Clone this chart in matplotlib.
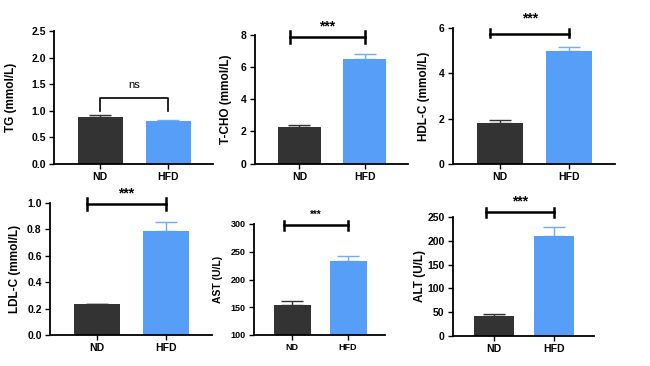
import matplotlib
matplotlib.use("Agg")
import matplotlib.pyplot as plt

plt.rcParams['font.family'] = ['Liberation Sans', 'DejaVu Sans']

groups = ["ND", "HFD"]
labels = ["TG (mmol/L)", "T-CHO (mmol/L)", "HDL-C (mmol/L)",
          "LDL-C (mmol/L)", "AST (U/L)", "ALT (U/L)"]
means = [[0.88, 0.81], [2.25, 6.50], [1.80, 4.98],
         [0.232, 0.786], [154, 233], [41.5, 210]]
errs = [[0.045, 0.012], [0.13, 0.33], [0.12, 0.19],
        [0.006, 0.065], [7, 10], [4.5, 20]]
sig = ["ns", "***", "***", "***", "***", "***"]
yticks = [[0, 0.5, 1.0, 1.5, 2.0, 2.5], [0, 2, 4, 6, 8], [0, 2, 4, 6],
          [0, 0.2, 0.4, 0.6, 0.8, 1.0], [100, 150, 200, 250, 300],
          [0, 50, 100, 150, 200, 250]]
ytickfmt = ["{:.1f}", "{:.0f}", "{:.0f}", "{:.1f}", "{:.0f}", "{:.0f}"]

# layout (pixels) and annotation positions
boxes = [(54, 213, 31, 164), (255, 408, 35, 163.5), (453, 615, 28, 164),
         (50, 212, 202.7, 335), (254, 385, 224, 335), (453, 594, 217, 336)]
ylabel_x = [17, 232, 430, 21, 223, 426]
brk = [(1.25, 1.0, 1.25, 1.49), (7.87, 7.5, 8.25, 8.5), (5.75, 5.6, 5.96, 6.42),
       (0.99, 0.945, 1.035, 1.07), (298, 289, 305, 316), (260, 251, 269, 283)]
brk_left = [0.0, -0.15, -0.145, -0.15, -0.14, -0.14]

W, H = 650, 366
fig = plt.figure(figsize=(6.5, 3.66), dpi=100)
fig.patch.set_facecolor("white")

c_nd = "#333333"
c_hfd = "#579ef8"
e_hfd = "#6fadf5"

for i in range(6):
    l, r, t, b = boxes[i]
    ax = fig.add_axes([l / W, 1 - b / H, (r - l) / W, (b - t) / H])
    ymin, ymax = yticks[i][0], yticks[i][-1]
    small = (i == 4)
    fs = 6.5 if small else 7.5
    ax.bar([0, 1], [m - ymin for m in means[i]], bottom=ymin, width=0.66,
           color=[c_nd, c_hfd], edgecolor="none", zorder=2)
    for j in range(2):
        ax.errorbar(j, means[i][j], yerr=[[0], [errs[i][j]]], fmt="none",
                    ecolor=[c_nd, e_hfd][j], elinewidth=1.0, capsize=8,
                    capthick=1.0, zorder=1)
    ax.set_xlim(-0.68, 1.66)
    ax.set_ylim(ymin, ymax)
    ax.set_yticks(yticks[i])
    ax.set_yticklabels([ytickfmt[i].format(v) for v in yticks[i]],
                       fontsize=fs, fontweight="bold")
    ax.set_xticks([0, 1])
    ax.set_xticklabels(groups, fontsize=fs, fontweight="bold")
    for s in ["top", "right"]:
        ax.spines[s].set_visible(False)
    for s in ["left", "bottom"]:
        ax.spines[s].set_linewidth(1.3)
    ax.tick_params(axis="both", direction="out", length=3.5, width=1.0,
                   pad=2.5, colors="black")
    ax.set_ylabel(labels[i], fontsize=7.5 if small else 8.5, fontweight="bold")
    ax.yaxis.set_label_coords((ylabel_x[i] - l) / (r - l), 0.5)
    # significance bracket
    yh, ylo, yhi, ytxt = brk[i]
    x0 = brk_left[i]
    if sig[i] == "ns":
        ax.plot([x0, x0, 1, 1], [ylo, yh, yh, ylo], color="black", lw=1.2,
                clip_on=False)
        ax.text(0.5, ytxt, "ns", ha="center", va="center", fontsize=8)
    else:
        ax.plot([x0, 1], [yh, yh], color="black", lw=1.8, clip_on=False)
        ax.plot([x0, x0], [ylo, yhi], color="black", lw=1.8, clip_on=False)
        ax.plot([1, 1], [ylo, yhi], color="black", lw=1.8, clip_on=False)
        ax.text((x0 + 1) / 2, ytxt, "***", ha="center", va="center",
                fontsize=7 if small else 10, fontweight="bold")

fig.savefig("out.png", dpi=100, facecolor="white")
